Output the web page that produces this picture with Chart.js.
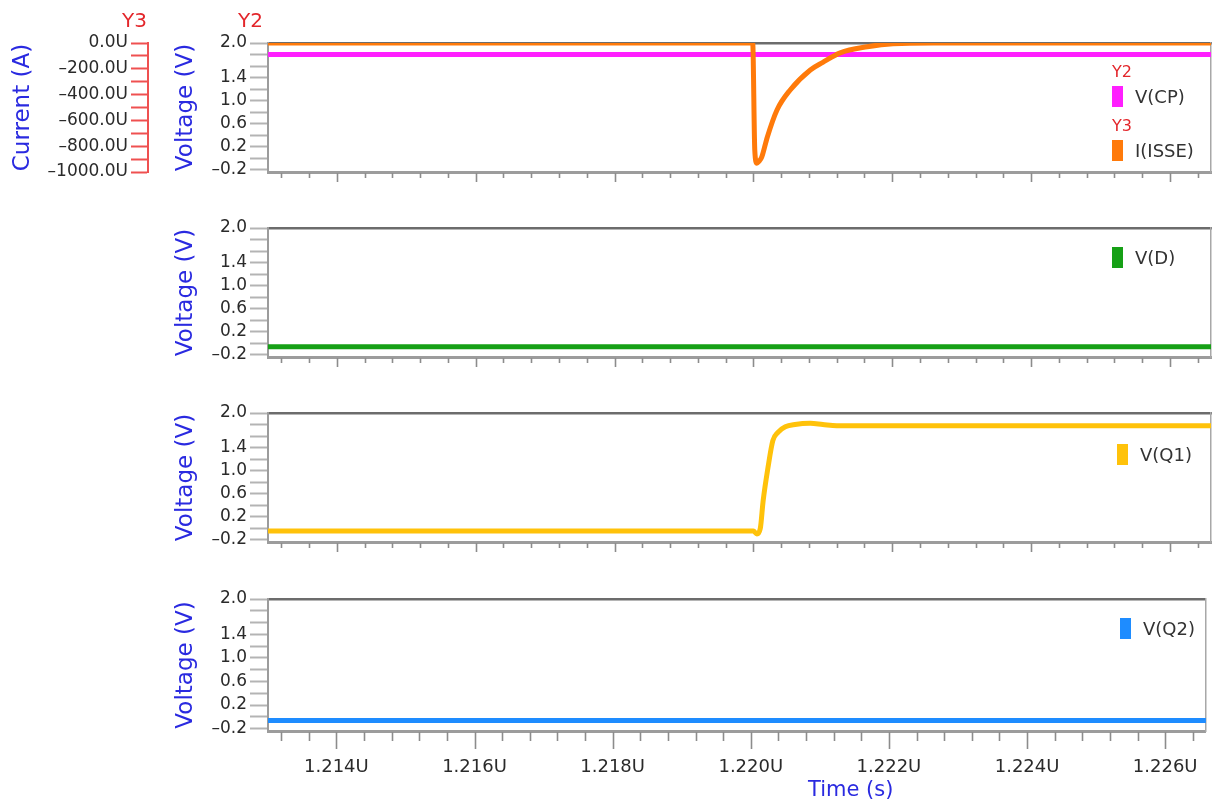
<!DOCTYPE html>
<html>
<head>
<meta charset="utf-8">
<title>Transient waveforms</title>
<script src="https://cdn.jsdelivr.net/npm/chart.js@4.4.1/dist/chart.umd.min.js"></script>
<style>
  html, body { margin: 0; padding: 0; background: #ffffff; }
  #wrap { position: relative; width: 1219px; height: 803px; overflow: hidden;
          font-family: "DejaVu Sans", sans-serif; }
  #wrap canvas { position: absolute; left: 0; top: 0; }
  .tag { position: absolute; color: #e3262b; line-height: 1; white-space: nowrap; }
  .leg { position: absolute; color: #333333; font-size: 18px; line-height: 21px; white-space: nowrap; }
  .sw  { position: absolute; width: 11px; height: 21px; }
  #xtitle { position: absolute; left: 808px; top: 779px; color: #2a2ae0;
            font-size: 21px; line-height: 1; white-space: nowrap; }
</style>
</head>
<body>
<div id="wrap">
  <canvas id="p1" width="1219" height="803"></canvas>
  <canvas id="p2" width="1219" height="803"></canvas>
  <canvas id="p3" width="1219" height="803"></canvas>
  <canvas id="p4" width="1219" height="803"></canvas>
  <div class="tag" style="left:122px; top:10px; font-size:20px;">Y3</div>
  <div class="tag" style="left:238px; top:10px; font-size:20px;">Y2</div>
  <div id="xtitle">Time (s)</div>
</div>
<script>
// ---- time window (µs) ----
const T_MIN = 1.21301;
const T_MAX = 1.22659;

// ---- axis ticks ----
const xTickValues = [1.2132, 1.2136, 1.2140, 1.2144, 1.2148, 1.2152, 1.2156, 1.2160,
                     1.2164, 1.2168, 1.2172, 1.2176, 1.2180, 1.2184, 1.2188, 1.2192,
                     1.2196, 1.2200, 1.2204, 1.2208, 1.2212, 1.2216, 1.2220, 1.2224,
                     1.2228, 1.2232, 1.2236, 1.2240, 1.2244, 1.2248, 1.2252, 1.2256,
                     1.2260, 1.2264];
const xLabelValues = [1.214, 1.216, 1.218, 1.220, 1.222, 1.224, 1.226];

const voltTickValues  = [-0.2, 0.0, 0.2, 0.4, 0.6, 0.8, 1.0, 1.2, 1.4, 1.6, 1.8, 2.0];
const voltLabelValues = [-0.2, 0.2, 0.6, 1.0, 1.4, 2.0];

const currTickValues  = [-1000, -900, -800, -700, -600, -500, -400, -300, -200, -100, 0];
const currLabelValues = [-1000, -800, -600, -400, -200, 0];

// ---- waveforms ----
// V(CP), volts
const tCP = [1.21301, 1.22659];
const vCP = [1.8, 1.8];

// I(ISSE), µA
const tISSE = [1.21301, 1.21999, 1.22002, 1.22005, 1.22008, 1.22012, 1.22020, 1.22034,
               1.22053, 1.22082, 1.22100, 1.22125, 1.22164, 1.22201, 1.22259, 1.22659];
const iISSE = [0, 0, -831, -932, -918, -885, -730, -519,
               -364, -209, -150, -76, -29, -5, 0, 0];

// V(D), volts
const tD = [1.21301, 1.22659];
const vD = [-0.06, -0.06];

// V(Q1), volts
const tQ1 = [1.21301, 1.22000, 1.22005, 1.22010, 1.22014, 1.22021, 1.22028, 1.22035,
             1.22046, 1.22060, 1.22082, 1.22100, 1.22120, 1.22659];
const vQ1 = [-0.05, -0.05, -0.10, 0.00, 0.47, 1.05, 1.52, 1.66,
             1.76, 1.80, 1.82, 1.80, 1.78, 1.78];

// V(Q2), volts
const tQ2 = [1.21301, 1.22659];
const vQ2 = [-0.06, -0.06];

// ---- helpers ----
const FONT = '"DejaVu Sans", sans-serif';
const TICK_TEXT = '#2a2a2a';
const TITLE_BLUE = '#2a2ae0';
const AXIS_GRAY = '#9c9c9c';
const AXIS_RED = '#ef5050';

const near = (a, b) => Math.abs(a - b) < 1e-7;
const isIn = (v, list) => list.some(m => near(v, m));
const dash = s => s.replace('-', '\u2013');
const pts = (ts, vs) => ts.map((t, i) => ({ x: t, y: vs[i] }));

// x tick marks: long at labelled times, short elsewhere
const xTickMarks = {
  id: 'xTickMarks',
  afterDraw(chart, args, o) {
    const s = chart.scales.x;
    const ctx = chart.ctx;
    ctx.save();
    ctx.strokeStyle = o.color;
    ctx.lineWidth = 1.6;
    s.ticks.forEach(t => {
      const px = Math.round(s.getPixelForValue(t.value)) + 0.5;
      const len = isIn(t.value, xLabelValues) ? o.major : o.minor;
      ctx.beginPath();
      ctx.moveTo(px, s.top + 1);
      ctx.lineTo(px, s.top + 1 + len);
      ctx.stroke();
    });
    ctx.restore();
  }
};

function voltAxis(weight) {
  return {
    type: 'linear', position: 'left', weight: weight,
    min: -0.24, max: 2.0,
    afterBuildTicks: s => { s.ticks = voltTickValues.map(v => ({ value: v })); },
    afterFit: s => { s.width = 120; },
    grid: { display: true, drawOnChartArea: false, drawTicks: true,
            tickLength: 18, tickColor: '#b4b4b4', tickWidth: 2 },
    border: { display: true, color: AXIS_GRAY, width: 2 },
    ticks: { autoSkip: false, padding: 3, color: TICK_TEXT,
             font: { family: FONT, size: 17 },
             callback: v => isIn(v, voltLabelValues) ? dash(v.toFixed(1)) : '' },
    title: { display: true, text: 'Voltage (V)', color: TITLE_BLUE,
             font: { family: FONT, size: 23 }, padding: { top: 24, bottom: 0 } }
  };
}

function currAxis() {
  return {
    type: 'linear', position: 'left', weight: 1,
    min: -1000, max: 0,
    afterBuildTicks: s => { s.ticks = currTickValues.map(v => ({ value: v })); },
    afterFit: s => { s.width = 148; },
    grid: { display: true, drawOnChartArea: false, drawTicks: true,
            tickLength: 17, tickColor: AXIS_RED, tickWidth: 2 },
    border: { display: true, color: AXIS_RED, width: 2 },
    ticks: { autoSkip: false, padding: 3, color: TICK_TEXT,
             font: { family: FONT, size: 17 },
             callback: v => isIn(v, currLabelValues) ? dash(v.toFixed(1)) + 'U' : '' },
    title: { display: true, text: 'Current (A)', color: TITLE_BLUE,
             font: { family: FONT, size: 23 }, padding: { top: 9, bottom: 0 } }
  };
}

function timeAxis(bottomStrip) {
  return {
    type: 'linear', position: 'bottom',
    min: T_MIN, max: T_MAX,
    afterBuildTicks: s => { s.ticks = xTickValues.map(v => ({ value: v })); },
    afterFit: s => { s.height = bottomStrip ? 60 : 16; },
    grid: { display: false, drawTicks: false },
    border: { display: true, color: AXIS_GRAY, width: 3 },
    ticks: { display: bottomStrip, autoSkip: false, maxRotation: 0, minRotation: 0,
             padding: 26, color: TICK_TEXT, font: { family: FONT, size: 18 },
             callback: v => isIn(v, xLabelValues) ? v.toFixed(3) + 'U' : '' }
  };
}

// frame edges above and right of each strip
const frameTop = {
  type: 'linear', position: 'top', min: 0, max: 1,
  afterFit: s => { s.height = 0; },
  grid: { display: false, drawTicks: false },
  ticks: { display: false },
  border: { display: true, color: '#6c6c6c', width: 2.5 }
};
const frameRight = {
  type: 'linear', position: 'right', min: 0, max: 1,
  afterFit: s => { s.width = 0; },
  grid: { display: false, drawTicks: false },
  ticks: { display: false },
  border: { display: true, color: '#a8a8a8', width: 1.5 }
};

function line(label, color, data, extra) {
  return Object.assign({
    label: label, data: data, borderColor: color, backgroundColor: color,
    borderWidth: 5, pointRadius: 0, fill: false, tension: 0,
    cubicInterpolationMode: 'monotone'
  }, extra || {});
}

function strip(id, top, bottom, datasets, withCurrent, bottomStrip) {
  const xH = bottomStrip ? 60 : 16;
  const scales = { x: timeAxis(bottomStrip), xTop: frameTop, yRight: frameRight };
  if (withCurrent) {
    scales.y2 = voltAxis(0);
    scales.y3 = currAxis();
  } else {
    scales.y = voltAxis(0);
  }
  return new Chart(document.getElementById(id), {
    type: 'line',
    data: { datasets: datasets },
    plugins: [xTickMarks],
    options: {
      responsive: false, animation: false, devicePixelRatio: 1, events: [],
      layout: { padding: { top: top, bottom: 803 - bottom - xH,
                           left: withCurrent ? 0 : 148, right: 8 } },
      plugins: {
        legend: { display: false }, tooltip: { enabled: false },
        xTickMarks: bottomStrip ? { color: '#8c8c8c', minor: 9, major: 17 }
                                : { color: '#8c8c8c', minor: 5, major: 9 }
      },
      scales: scales
    }
  });
}

function legend(chart, places) {
  const wrap = document.getElementById('wrap');
  chart.data.datasets.forEach((ds, i) => {
    const p = places[i];
    if (ds.axisTag) {
      const t = document.createElement('div');
      t.className = 'tag';
      t.style.cssText = `left:${p.x}px; top:${p.y - 22}px; font-size:16px;`;
      t.textContent = ds.axisTag;
      wrap.appendChild(t);
    }
    const sw = document.createElement('div');
    sw.className = 'sw';
    sw.style.cssText = `left:${p.x}px; top:${p.y}px; background:${ds.borderColor};`;
    wrap.appendChild(sw);
    const lb = document.createElement('div');
    lb.className = 'leg';
    lb.style.cssText = `left:${p.x + 23}px; top:${p.y}px;`;
    lb.textContent = ds.label;
    wrap.appendChild(lb);
  });
}

// ---- strips ----
const c1 = strip('p1', 43, 172, [
  line('V(CP)', '#ff1fff', pts(tCP, vCP), { yAxisID: 'y2', order: 1, axisTag: 'Y2' }),
  line('I(ISSE)', '#ff7a0a', pts(tISSE, iISSE), { yAxisID: 'y3', order: 0, axisTag: 'Y3' })
], true, false);
legend(c1, [{ x: 1112, y: 86 }, { x: 1112, y: 140 }]);

const c2 = strip('p2', 228, 357, [
  line('V(D)', '#16a016', pts(tD, vD), { yAxisID: 'y' })
], false, false);
legend(c2, [{ x: 1112, y: 247 }]);

const c3 = strip('p3', 413, 542, [
  line('V(Q1)', '#ffc20a', pts(tQ1, vQ1), { yAxisID: 'y' })
], false, false);
legend(c3, [{ x: 1117, y: 444 }]);

const c4 = strip('p4', 599, 731, [
  line('V(Q2)', '#1e8cff', pts(tQ2, vQ2), { yAxisID: 'y' })
], false, true);
legend(c4, [{ x: 1120, y: 618 }]);
</script>
</body>
</html>
